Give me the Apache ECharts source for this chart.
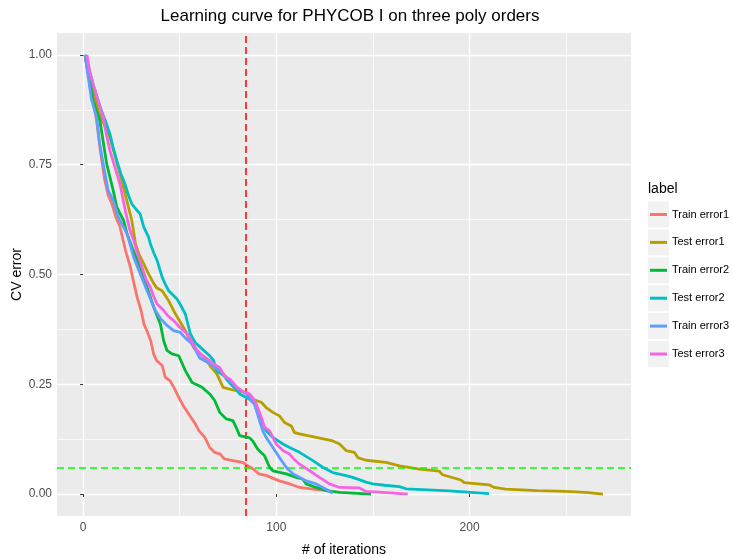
<!DOCTYPE html>
<html>
<head>
<meta charset="utf-8">
<script src="https://cdn.jsdelivr.net/npm/echarts@6/dist/echarts.min.js"></script>
<style>
  html, body { margin: 0; padding: 0; background: #fff; }
  #chart { width: 732px; height: 559px; }
</style>
</head>
<body>
<div id="chart"></div>
<script>
// Cross-validation error per iteration, one pair of arrays per curve
const seriesNames = ['Train error1', 'Test error1', 'Train error2', 'Test error2', 'Train error3', 'Test error3'];
const seriesColors = ['#F8766D', '#B79F00', '#00BA38', '#00BFC4', '#619CFF', '#F564E3'];

const train1Iter = [1, 3, 5, 7, 9, 11, 13, 15, 17, 19, 22, 24.5, 26, 28, 30, 31.5, 33, 35, 36.5, 38, 41, 42.5, 45, 47, 49.5, 52, 55, 58, 60, 63, 65.5, 68, 71, 73, 77.5, 82.5, 85, 88, 91, 95, 101.5, 107, 112, 119, 125.7, 128];
const train1Err  = [1, 0.95, 0.9, 0.85, 0.78, 0.72, 0.68, 0.66, 0.63, 0.61, 0.554, 0.516, 0.486, 0.448, 0.418, 0.387, 0.372, 0.349, 0.319, 0.304, 0.292, 0.266, 0.258, 0.243, 0.22, 0.2, 0.18, 0.16, 0.144, 0.129, 0.106, 0.095, 0.091, 0.08, 0.076, 0.072, 0.065, 0.057, 0.046, 0.042, 0.03, 0.023, 0.015, 0.011, 0.008, 0.006];

const test1Iter = [1, 3, 5.5, 8, 11, 13.9, 16.5, 19.1, 22.6, 25.2, 27.1, 29, 31.4, 33.5, 35.7, 38, 40.9, 44.3, 47.8, 50.5, 52.9, 57.2, 60.5, 64.1, 66, 69.3, 72.4, 77.5, 84.4, 87.7, 92.2, 94.7, 98.2, 101.6, 104.2, 107.7, 109.4, 112, 120.6, 129.2, 132.7, 136.1, 140.4, 142.1, 146.4, 156.8, 163.7, 174, 184.3, 186, 195.5, 197.2, 210.1, 212.7, 218.7, 235, 249.7, 260, 269];
const test1Err  = [1, 0.95, 0.91, 0.87, 0.84, 0.812, 0.77, 0.729, 0.669, 0.623, 0.57, 0.545, 0.524, 0.505, 0.486, 0.47, 0.463, 0.44, 0.41, 0.39, 0.372, 0.334, 0.32, 0.304, 0.29, 0.273, 0.243, 0.237, 0.231, 0.216, 0.209, 0.197, 0.186, 0.178, 0.163, 0.155, 0.14, 0.137, 0.129, 0.121, 0.114, 0.099, 0.095, 0.083, 0.077, 0.072, 0.064, 0.057, 0.052, 0.044, 0.032, 0.026, 0.021, 0.015, 0.011, 0.008, 0.006, 0.004, 0.0];

const train2Iter = [1, 3, 5.2, 8.7, 10.5, 12.2, 15.6, 17.4, 19, 21, 22.8, 25.3, 29.7, 33.1, 36.6, 40, 41.7, 43.4, 46, 49.5, 52.9, 56.4, 61.6, 65.5, 68.1, 70.7, 74.1, 77.5, 79.2, 81, 86.1, 87.8, 90.4, 93.9, 96.5, 98.2, 105.1, 110.3, 113.7, 115.4, 120.6, 125.7, 132.7, 149];
const train2Err  = [1, 0.95, 0.896, 0.85, 0.8, 0.752, 0.691, 0.654, 0.64, 0.623, 0.592, 0.562, 0.516, 0.471, 0.425, 0.387, 0.349, 0.327, 0.319, 0.315, 0.281, 0.254, 0.243, 0.228, 0.213, 0.186, 0.171, 0.167, 0.152, 0.133, 0.128, 0.121, 0.102, 0.087, 0.061, 0.053, 0.046, 0.038, 0.034, 0.023, 0.015, 0.008, 0.004, 0.0];

const test2Iter = [1, 3, 5.2, 7.5, 9.5, 11.5, 13.9, 15.5, 17.4, 19.5, 21.7, 23.5, 25.2, 27.5, 29.5, 31.4, 33.9, 34.8, 36.5, 38.3, 40.9, 42.5, 44.3, 48.6, 50.5, 52.9, 55.5, 58, 60.7, 65.5, 67.6, 68.9, 72.8, 74.1, 77.1, 79.2, 81, 86.1, 88.7, 91.3, 94.7, 98.2, 103.4, 106.8, 112, 118.9, 124, 129.2, 136.1, 139.5, 146.4, 149.9, 156, 163.7, 167.1, 189.5, 210];
const test2Err  = [1, 0.97, 0.933, 0.9, 0.873, 0.85, 0.82, 0.79, 0.76, 0.73, 0.706, 0.68, 0.661, 0.648, 0.638, 0.608, 0.585, 0.57, 0.55, 0.532, 0.494, 0.478, 0.463, 0.444, 0.43, 0.41, 0.365, 0.345, 0.334, 0.315, 0.304, 0.281, 0.27, 0.262, 0.247, 0.238, 0.228, 0.216, 0.205, 0.175, 0.144, 0.129, 0.114, 0.106, 0.095, 0.076, 0.061, 0.049, 0.042, 0.038, 0.027, 0.023, 0.02, 0.017, 0.012, 0.007, 0.001];

const train3Iter = [1, 4.3, 7, 8.5, 10.4, 13, 15.6, 18.2, 22.8, 26.2, 29.7, 33.1, 37.4, 40, 43.4, 46.9, 50.3, 53, 56.4, 60.3, 65.9, 70.7, 76.2, 80, 84.4, 88.7, 91.3, 93, 94.7, 98.2, 101.6, 105.1, 108.5, 112, 115.4, 120.6, 125.7, 129.2];
const train3Err  = [1, 0.9, 0.858, 0.8, 0.752, 0.691, 0.669, 0.631, 0.592, 0.539, 0.5, 0.463, 0.418, 0.4, 0.384, 0.372, 0.368, 0.355, 0.342, 0.31, 0.296, 0.281, 0.258, 0.24, 0.228, 0.205, 0.167, 0.144, 0.129, 0.106, 0.083, 0.061, 0.046, 0.038, 0.03, 0.023, 0.011, 0.002];

const test3Iter = [2, 3.5, 5.2, 7.5, 10.4, 12, 13.9, 16.5, 19.1, 22.2, 24.3, 26, 28, 30.5, 32.5, 34.8, 36.5, 38.3, 41.7, 44, 46.9, 50, 53.8, 56.5, 59, 62, 65.5, 67.6, 70.7, 73.6, 75.9, 79.7, 83.1, 86.1, 88.3, 89.6, 92.2, 93.9, 96.5, 99.9, 103.4, 106.8, 109, 112, 117.2, 122.3, 127.5, 132.7, 143, 146.4, 155, 168];
const test3Err  = [1, 0.96, 0.933, 0.9, 0.858, 0.82, 0.782, 0.744, 0.706, 0.638, 0.6, 0.58, 0.55, 0.516, 0.49, 0.471, 0.45, 0.433, 0.418, 0.405, 0.395, 0.38, 0.365, 0.345, 0.327, 0.315, 0.304, 0.296, 0.288, 0.266, 0.262, 0.243, 0.232, 0.228, 0.216, 0.205, 0.175, 0.152, 0.144, 0.114, 0.099, 0.091, 0.08, 0.068, 0.053, 0.038, 0.023, 0.015, 0.014, 0.006, 0.004, 0.0];

// Reference lines: chosen iteration and target error
const chosenIteration = 84;
const targetError = 0.06;

// Axis ticks
const xMajorTicks = [0, 100, 200];
const xMinorTicks = [50, 150, 250];
const yMajorTicks = [0, 0.25, 0.5, 0.75, 1];
const yMinorTicks = [0.125, 0.375, 0.625, 0.875];
const xRange = [-13.5, 283.5];
const yRange = [-0.05, 1.05];

const iterArrays = [train1Iter, test1Iter, train2Iter, test2Iter, train3Iter, test3Iter];
const errArrays = [train1Err, test1Err, train2Err, test2Err, train3Err, test3Err];

const FONT = "'Liberation Sans', Arial, sans-serif";

const chart = echarts.init(document.getElementById('chart'), null, { renderer: 'canvas' });

const series = seriesNames.map((name, i) => ({
  name: name,
  type: 'line',
  data: iterArrays[i].map((x, k) => [x, errArrays[i][k]]),
  showSymbol: false,
  symbol: 'none',
  lineStyle: { color: seriesColors[i], width: 2.8 },
  itemStyle: { color: seriesColors[i] },
  z: 3 + i,
  animation: false
}));

// Dashed reference lines drawn above the curves
series.push({
  name: 'reference',
  type: 'line',
  data: [],
  z: 20,
  silent: true,
  animation: false,
  markLine: {
    silent: true,
    symbol: 'none',
    label: { show: false },
    animation: false,
    emphasis: { disabled: true },
    data: [
      { xAxis: chosenIteration, lineStyle: { color: '#FF0000', type: [7, 4], width: 1.5, opacity: 1 } },
      { yAxis: targetError, lineStyle: { color: '#00FF00', type: [7, 4], width: 1.5, opacity: 1 } }
    ]
  }
});

// Legend layout
const legendFirstCenter = 214.5;
const legendStep = 27.9;
const legendLineHeight = 16;
const keyGraphics = seriesNames.map((n, i) => ({
  type: 'rect',
  shape: { x: 648, y: legendFirstCenter + i * legendStep - 13, width: 21, height: 26 },
  style: { fill: '#F2F2F2' },
  z: 1
}));

const option = {
  backgroundColor: '#FFFFFF',
  animation: false,
  textStyle: { fontFamily: FONT },
  title: {
    text: 'Learning curve for PHYCOB I on three poly orders',
    left: 345,
    top: 3,
    textAlign: 'center',
    textStyle: { fontFamily: FONT, fontSize: 17, fontWeight: 'normal', color: '#000' }
  },
  grid: {
    left: 57, right: 101, top: 33, bottom: 43,
    outerBoundsMode: 'none', containLabel: false,
    show: true, backgroundColor: '#EBEBEB', borderWidth: 0
  },
  legend: {
    orient: 'vertical',
    left: 650,
    top: legendFirstCenter - legendLineHeight / 2,
    padding: 0,
    itemWidth: 17,
    itemHeight: 3,
    itemGap: legendStep - legendLineHeight,
    icon: 'rect',
    data: seriesNames,
    textStyle: { fontFamily: FONT, fontSize: 11, color: '#000', lineHeight: legendLineHeight },
    z: 5
  },
  graphic: [
    ...keyGraphics,
    { type: 'text', left: 648, top: 182, style: { text: 'label', font: "14px " + FONT, fill: '#000' }, z: 2 }
  ],
  xAxis: [
    {
      type: 'value', min: xRange[0], max: xRange[1],
      name: '# of iterations', nameLocation: 'middle', nameGap: 27, nameMoveOverlap: false,
      nameTextStyle: { fontFamily: FONT, fontSize: 14, color: '#000' },
      axisLine: { show: false },
      axisTick: { show: true, length: 3, customValues: xMajorTicks, lineStyle: { color: '#333333', width: 1 } },
      axisLabel: { customValues: xMajorTicks, color: '#4D4D4D', fontSize: 12, margin: 6, fontFamily: FONT },
      splitLine: { show: true, lineStyle: { color: '#FFFFFF', width: 1.4 } }
    },
    {
      type: 'value', min: xRange[0], max: xRange[1],
      axisLine: { show: false },
      axisTick: { show: false, customValues: xMinorTicks },
      axisLabel: { show: false, customValues: xMinorTicks },
      splitLine: { show: true, lineStyle: { color: '#FFFFFF', width: 0.7 } }
    }
  ],
  yAxis: [
    {
      type: 'value', min: yRange[0], max: yRange[1],
      name: 'CV error', nameLocation: 'middle', nameGap: 33, nameRotate: 90, nameMoveOverlap: false,
      nameTextStyle: { fontFamily: FONT, fontSize: 14, color: '#000' },
      axisLine: { show: false },
      axisTick: { show: true, length: 3, customValues: yMajorTicks, lineStyle: { color: '#333333', width: 1 } },
      axisLabel: { customValues: yMajorTicks, color: '#4D4D4D', fontSize: 12, margin: 5, fontFamily: FONT,
        formatter: v => v.toFixed(2) },
      splitLine: { show: true, lineStyle: { color: '#FFFFFF', width: 1.4 } }
    },
    {
      type: 'value', min: yRange[0], max: yRange[1],
      axisLine: { show: false },
      axisTick: { show: false, customValues: yMinorTicks },
      axisLabel: { show: false, customValues: yMinorTicks },
      splitLine: { show: true, lineStyle: { color: '#FFFFFF', width: 0.7 } }
    }
  ],
  series: series
};

chart.setOption(option);
</script>
</body>
</html>
